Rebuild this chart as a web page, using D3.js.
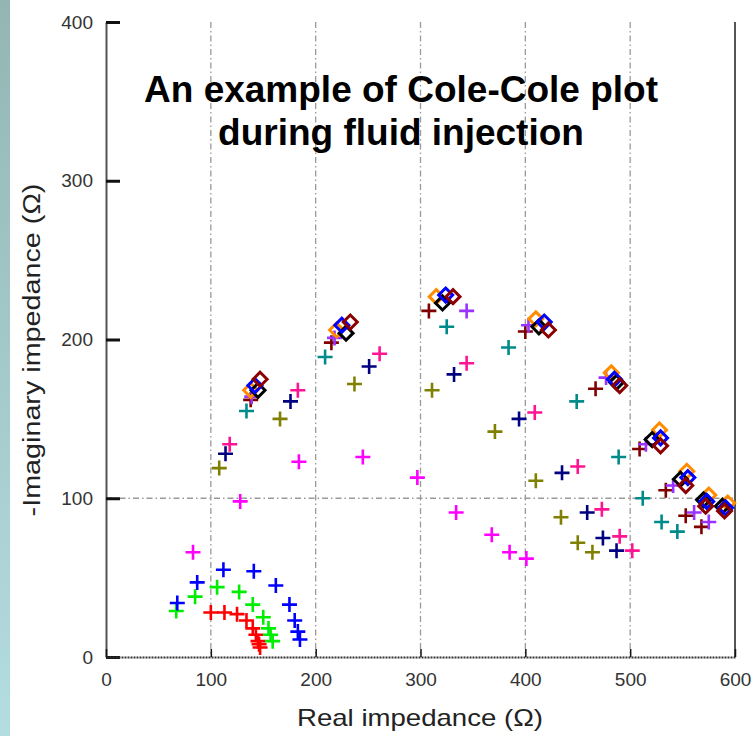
<!DOCTYPE html>
<html>
<head>
<meta charset="utf-8">
<script src="https://cdn.jsdelivr.net/npm/d3@7"></script>
<style>
  body { margin: 0; background: #fff; }
  svg { display: block; font-family: "Liberation Sans", Arial, sans-serif; }
</style>
</head>
<body>
<svg id="chart" width="753" height="736"></svg>
<script>
// tick values
var xTicks = [0, 100, 200, 300, 400, 500, 600];
var yTicks = [0, 100, 200, 300, 400];

// crosses, [real, -imag]
var redPts = [[100,28],[113,28],[125,27],[134,23],[140,18],[143,14],[145,10],[146,8],[147,6]];
var greenPts = [[67,29],[85,38],[106,44],[127,41],[140,33],[150,25],[155,18],[157,14],[159,10]];
var bluePts = [[68,34],[87,47],[112,55],[141,54],[162,45],[175,33],[180,23],[183,16],[185,11]];
var magentaPts = [[83,66],[128,98],[184,123],[245,126],[297,113],[334,91],[368,77],[385,66],[401,62]];
var pinkPts = [[118,134],[183,168],[261,191],[344,185],[409,154],[450,120],[473,93],[490,76],[502,67]];
var navyPts = [[114,128],[176,161],[251,183],[332,178],[394,150],[435,116],[459,91],[474,75],[487,67]];
var olivePts = [[108,119],[166,150],[237,172],[311,168],[371,142],[410,111],[434,88],[450,72],[464,66]];
var tealPts = [[134,155],[209,189],[325,208],[384,195],[449,161],[489,126],[512,100],[530,85],[545,79]];
var maroonPts = [[138,162],[215,198],[308,218],[400,205],[467,169],[509,131],[534,105],[553,89],[568,82]];
var purplePts = [[139,164],[218,201],[344,218],[403,209],[477,176],[515,134],[541,108],[561,91],[575,85]];

// open diamonds
var orangeDia = [[138,168],[220,206],[315,227],[410,213],[482,179],[528,143],[554,117],[575,102],[593,97]];
var blackDia = [[145,168],[229,204],[321,223],[413,208],[487,173],[521,137],[548,112],[570,99],[588,95]];
var blueDia = [[142,171],[225,209],[324,228],[418,211],[485,175],[529,138],[555,113],[573,98],[591,94]];
var darkredDia = [[147,175],[233,211],[331,227],[422,206],[490,171],[529,133],[553,108],[572,95],[590,92]];

var crossSeries = [
  {pts: redPts, color: '#ff0000'},
  {pts: greenPts, color: '#00ee00'},
  {pts: bluePts, color: '#0000ff'},
  {pts: magentaPts, color: '#ff00ff'},
  {pts: olivePts, color: '#808000'},
  {pts: navyPts, color: '#000080'},
  {pts: pinkPts, color: '#ff1493'},
  {pts: tealPts, color: '#008b8b'},
  {pts: maroonPts, color: '#800000'},
  {pts: purplePts, color: '#9933ff'}
];
var diaSeries = [
  {pts: orangeDia, color: '#ff8c00'},
  {pts: blackDia, color: '#000000'},
  {pts: blueDia, color: '#0000ff'},
  {pts: darkredDia, color: '#8b0000'}
];

const svg = d3.select('#chart');

// slide background strip on the left
const defs = svg.append('defs');
const grad = defs.append('linearGradient').attr('id', 'strip')
    .attr('x1', 0).attr('y1', 0).attr('x2', 0).attr('y2', 1);
grad.append('stop').attr('offset', '0%').attr('stop-color', '#93b6b2');
grad.append('stop').attr('offset', '100%').attr('stop-color', '#b4dde2');
svg.append('rect').attr('x', 0).attr('y', 0).attr('width', 10).attr('height', 736)
    .attr('fill', 'url(#strip)');

const xScale = d3.scaleLinear().domain([0, 600]).range([106, 735]);
const yScale = d3.scaleLinear().domain([0, 400]).range([657, 22]);

// grid, dash-dot
const grid = svg.append('g').attr('stroke', '#9a9a9a').attr('stroke-width', 1.3)
    .attr('stroke-dasharray', '6,3,1.5,3');
grid.selectAll('line.v')
    .data([100, 200, 300, 400, 500])
    .enter().append('line')
    .attr('x1', d => xScale(d)).attr('x2', d => xScale(d))
    .attr('y1', yScale(400)).attr('y2', yScale(0));
grid.append('line')
    .attr('x1', xScale(0)).attr('x2', xScale(600))
    .attr('y1', yScale(100)).attr('y2', yScale(100));

// right border
svg.append('line')
    .attr('x1', xScale(600)).attr('x2', xScale(600))
    .attr('y1', yScale(400)).attr('y2', yScale(0))
    .attr('stroke', '#555').attr('stroke-width', 2);

// y axis
const yAxis = svg.append('g')
    .attr('transform', 'translate(' + xScale(0) + ',0)')
    .call(d3.axisLeft(yScale).tickValues(yTicks).tickSize(-14).tickPadding(13).tickSizeOuter(0));
yAxis.select('.domain').attr('stroke', '#555').attr('stroke-width', 2);
yAxis.selectAll('.tick line').attr('stroke', '#111').attr('stroke-width', 3);
yAxis.selectAll('.tick text').attr('font-size', 19).attr('fill', '#333')
    .attr('font-family', '"Liberation Sans", Arial, sans-serif');

// x axis
const xAxis = svg.append('g')
    .attr('transform', 'translate(0,' + yScale(0) + ')')
    .call(d3.axisBottom(xScale).tickValues(xTicks).tickSize(-8).tickPadding(16).tickSizeOuter(0));
xAxis.select('.domain').attr('stroke', '#333').attr('stroke-width', 2).attr('stroke-dasharray', '2,1');
xAxis.selectAll('.tick line').attr('stroke', '#111').attr('stroke-width', 1.5);
xAxis.selectAll('.tick text').attr('font-size', 19).attr('fill', '#333')
    .attr('font-family', '"Liberation Sans", Arial, sans-serif');

// markers
const crossPath = 'M-7.5,0H7.5M0,-7.5V7.5';
const diaPath = 'M0,-7L7,0L0,7L-7,0Z';

crossSeries.forEach(function (s) {
    svg.append('g').selectAll('path')
        .data(s.pts)
        .enter().append('path')
        .attr('d', crossPath)
        .attr('transform', d => 'translate(' + xScale(d[0]) + ',' + yScale(d[1]) + ')')
        .attr('fill', 'none')
        .attr('stroke', s.color)
        .attr('stroke-width', 2.6);
});

diaSeries.forEach(function (s) {
    svg.append('g').selectAll('path')
        .data(s.pts)
        .enter().append('path')
        .attr('d', diaPath)
        .attr('transform', d => 'translate(' + xScale(d[0]) + ',' + yScale(d[1]) + ')')
        .attr('fill', 'none')
        .attr('stroke', s.color)
        .attr('stroke-width', 3);
});

// title
const title = svg.append('text')
    .attr('text-anchor', 'middle')
    .attr('font-size', 37)
    .attr('font-weight', 'bold')
    .attr('fill', '#000');
title.append('tspan').attr('x', 401).attr('y', 102).text('An example of Cole-Cole plot');
title.append('tspan').attr('x', 401).attr('y', 145).text('during fluid injection');

// axis labels, stretched along the text like the source
svg.append('text')
    .attr('transform', 'translate(420,726) scale(1.2,1)')
    .attr('text-anchor', 'middle')
    .attr('font-size', 23)
    .attr('fill', '#222')
    .text('Real impedance (\u03A9)');

svg.append('text')
    .attr('transform', 'translate(40,350) rotate(-90) scale(1.25,1)')
    .attr('text-anchor', 'middle')
    .attr('font-size', 23)
    .attr('fill', '#222')
    .text('-Imaginary impedance (\u03A9)');
</script>
</body>
</html>
